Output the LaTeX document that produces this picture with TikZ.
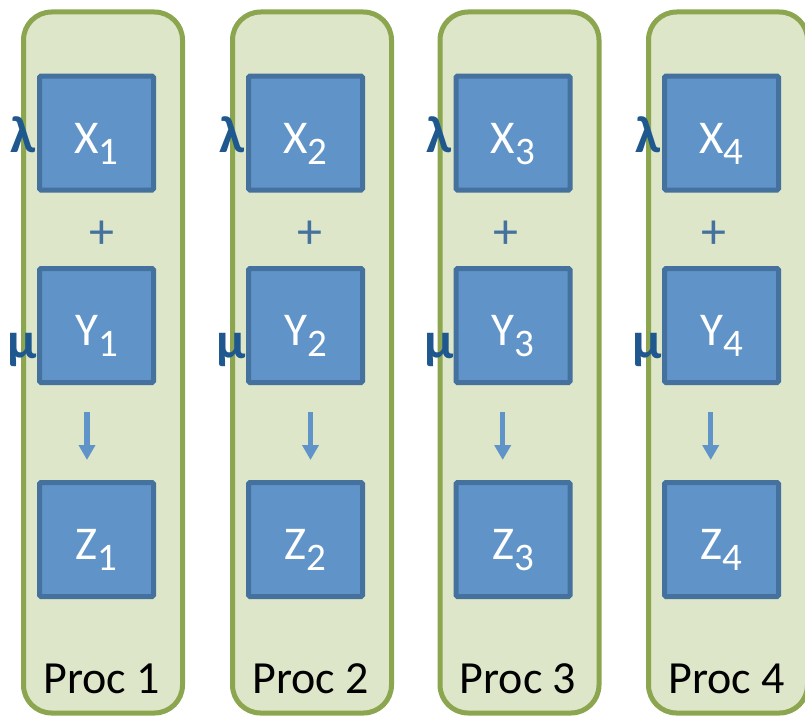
\documentclass[tikz,border=0pt]{standalone}
\usepackage{fontspec}
\setmainfont{Carlito}
\usetikzlibrary{arrows.meta}
\definecolor{colfill}{RGB}{221,230,200}
\definecolor{colline}{RGB}{140,166,80}
\definecolor{boxfill}{RGB}{96,148,200}
\definecolor{boxline}{RGB}{68,113,158}
\definecolor{greek}{RGB}{31,88,142}
\tikzset{
  procbox/.style={draw=colline, fill=colfill, line width=5pt, rounded corners=28pt,
    minimum width=159pt, minimum height=701pt, inner sep=0pt},
  varbox/.style={draw=boxline, fill=boxfill, line width=5pt, rounded corners=1.5pt,
    minimum width=114pt, minimum height=114pt, inner sep=0pt, text=white,
    font=\fontsize{47}{47}\selectfont},
  greeklbl/.style={text=greek, font=\fontsize{52}{52}\selectfont\bfseries, inner sep=0pt, anchor=base},
  pluslbl/.style={text=boxline, font=\fontsize{50}{50}\selectfont, inner sep=0pt},
  proclbl/.style={text=black, font=\fontsize{46}{46}\selectfont, inner sep=0pt, anchor=base},
  flowarrow/.style={draw=boxfill, line width=5.5pt, -{Triangle[width=16pt,length=15pt]}}
}
\newcommand{\varlbl}[2]{\raisebox{-20pt}[0pt][0pt]{#1\raisebox{-11pt}{\fontsize{39}{39}\selectfont #2}}}
\begin{document}
\begin{tikzpicture}[x=1pt,y=-1pt]
\useasboundingbox (0,0) rectangle (805,717);
\foreach \i/\L/\px/\ax in {1/23.5/78/63.5, 2/232.5/77.5/78, 3/440/66/62.7, 4/648.5/65.8/62.2}{
  \node[procbox] (col\i) at (\L+79.5,362.5) {};
  \node[varbox] (x\i) at (\L+73,133) {\varlbl{X}{\i}};
  \node[varbox] (y\i) at (\L+73,325.5) {\varlbl{Y}{\i}};
  \node[varbox] (z\i) at (\L+73,539.5) {\varlbl{Z}{\i}};
  \node[greeklbl] (lam\i) at (\L-0.5,152) {λ};
  \node[greeklbl] (mu\i) at (\L-1,358) {μ};
  \node[pluslbl] (plus\i) at (\L+\px,235) {+};
  \coordinate (as\i) at (\L+\ax,412);
  \coordinate (ae\i) at (\L+\ax,460);
  \draw[flowarrow] (as\i) -- (ae\i);
  \node[proclbl] (proc\i) at (\L+78,693) {Proc \i};
}
\end{tikzpicture}
\end{document}
